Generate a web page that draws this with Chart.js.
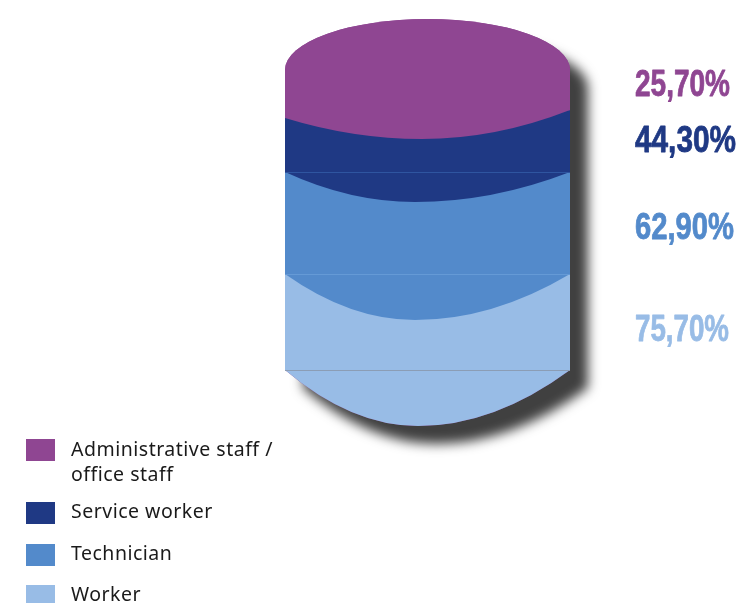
<!DOCTYPE html>
<html>
<head>
<meta charset="utf-8">
<style>
  html, body { margin: 0; padding: 0; background: #ffffff; }
  #wrap { position: relative; width: 737px; height: 603px; }
  canvas { display: block; }
</style>
<script src="https://cdn.jsdelivr.net/npm/chart.js@4"></script>
</head>
<body>
<div id="wrap"><canvas id="graph" width="737" height="603"></canvas></div>
<script>
const categories = ["Administrative staff / office staff", "Service worker", "Technician", "Worker"];
// height of each slice of the cylinder, as a share of its side
const sliceShares = [13.3, 20.7, 34, 32];
const percentLabels = ["25,70%", "44,30%", "62,90%", "75,70%"];

const colors = ["#8f4692", "#1f3984", "#538acb", "#98bce6"];
const seamColors = [null, "#2f55a0", "#659ad6", "#8b9db5"];

// curve under each slice: how deep it hangs, where it bottoms out, how much lower the left end sits
const bellies = [
    { depth: 29, x: 422, leftDrop: 8 },
    { depth: 30, x: 415, leftDrop: 0 },
    { depth: 46, x: 415, leftDrop: 0 },
    { depth: 56, x: 418, leftDrop: 0 }
];
const domeHeight = 51;

const percentStyle = [
    { y: 96, width: 95 },
    { y: 152, width: 101 },
    { y: 239, width: 99 },
    { y: 341, width: 94 }
];
const legendRows = [
    { box: 439, h: 22, lines: [["Administrative staff /", 456], ["office staff", 481]] },
    { box: 502, h: 22, lines: [["Service worker", 518]] },
    { box: 544, h: 22, lines: [["Technician", 560]] },
    { box: 585, h: 18, lines: [["Worker", 601]] }
];

const cylinder = {
    id: 'cylinder',
    beforeDatasetsDraw(chart) {
        const ctx = chart.ctx;
        const a = chart.chartArea;
        const rx = (a.right - a.left) / 2;
        const last = bellies[3];
        ctx.save();
        ctx.shadowColor = 'rgb(64,64,64)';
        ctx.shadowBlur = 12;
        ctx.shadowOffsetX = 18;
        ctx.shadowOffsetY = 18;
        ctx.fillStyle = colors[0];
        ctx.beginPath();
        ctx.ellipse(a.left + rx, a.top, rx, domeHeight, 0, Math.PI, 0);
        ctx.lineTo(a.right, a.bottom);
        ctx.quadraticCurveTo((a.right + last.x) / 2, a.bottom + last.depth, last.x, a.bottom + last.depth);
        ctx.quadraticCurveTo((a.left + last.x) / 2, a.bottom + last.depth, a.left, a.bottom);
        ctx.closePath();
        ctx.fill();
        ctx.restore();
    },
    afterDatasetsDraw(chart) {
        const ctx = chart.ctx;
        const a = chart.chartArea;
        const rx = (a.right - a.left) / 2;

        // bottom slice first, so each curve lies over the slice below it
        for (let i = categories.length - 1; i >= 0; i--) {
            const el = chart.getDatasetMeta(i).data[0];
            const y = Math.max(el.y, el.base);
            ctx.fillStyle = colors[i];
            ctx.beginPath();
            ctx.moveTo(a.left, y);
            ctx.lineTo(a.left, y + bellies[i].leftDrop);
            ctx.quadraticCurveTo((a.left + bellies[i].x) / 2, y + bellies[i].depth, bellies[i].x, y + bellies[i].depth);
            ctx.quadraticCurveTo((a.right + bellies[i].x) / 2, y + bellies[i].depth, a.right, y);
            ctx.closePath();
            ctx.fill();
        }

        ctx.fillStyle = colors[0];
        ctx.beginPath();
        ctx.ellipse(a.left + rx, a.top, rx, domeHeight, 0, Math.PI, 0);
        ctx.closePath();
        ctx.fill();

        // thin seams where the slices meet
        for (let i = 1; i < categories.length; i++) {
            const el = chart.getDatasetMeta(i).data[0];
            const y = Math.round(Math.max(el.y, el.base)) + 0.5;
            ctx.strokeStyle = seamColors[i];
            ctx.lineWidth = 1;
            ctx.beginPath();
            ctx.moveTo(a.left, y);
            ctx.lineTo(a.right, y);
            ctx.stroke();
        }
    },
    afterDraw(chart) {
        const ctx = chart.ctx;
        ctx.save();
        ctx.textBaseline = 'alphabetic';
        ctx.textAlign = 'left';

        ctx.font = 'bold 37px "Liberation Sans Narrow", "Liberation Sans"';
        ctx.lineWidth = 0.8;
        ctx.lineJoin = 'round';
        percentLabels.forEach((txt, i) => {
            ctx.fillStyle = colors[i];
            ctx.strokeStyle = colors[i];
            ctx.fillText(txt, 635, percentStyle[i].y, percentStyle[i].width);
            ctx.strokeText(txt, 635, percentStyle[i].y, percentStyle[i].width);
        });

        ctx.font = '19.5px "Noto Sans"';
        ctx.letterSpacing = '0.5px';
        legendRows.forEach((row, i) => {
            ctx.fillStyle = colors[i];
            ctx.fillRect(26, row.box, 29, row.h);
            ctx.fillStyle = '#1a1a1a';
            row.lines.forEach(l => ctx.fillText(l[0], 71, l[1]));
        });
        ctx.restore();
    }
};

new Chart(document.getElementById('graph').getContext('2d'), {
    type: 'bar',
    data: {
        labels: [''],
        datasets: categories.map((name, i) => ({
            label: name,
            data: [sliceShares[i]],
            backgroundColor: colors[i],
            borderWidth: 0,
            barPercentage: 1,
            categoryPercentage: 1
        }))
    },
    options: {
        responsive: false,
        animation: false,
        devicePixelRatio: 1,
        layout: { padding: { left: 285, right: 167, top: 70, bottom: 233 } },
        scales: {
            x: { stacked: true, display: false },
            y: { stacked: true, display: false, reverse: true, min: 0, max: 100 }
        },
        plugins: {
            legend: { display: false },
            tooltip: { enabled: false }
        }
    },
    plugins: [cylinder]
});
</script>
</body>
</html>
